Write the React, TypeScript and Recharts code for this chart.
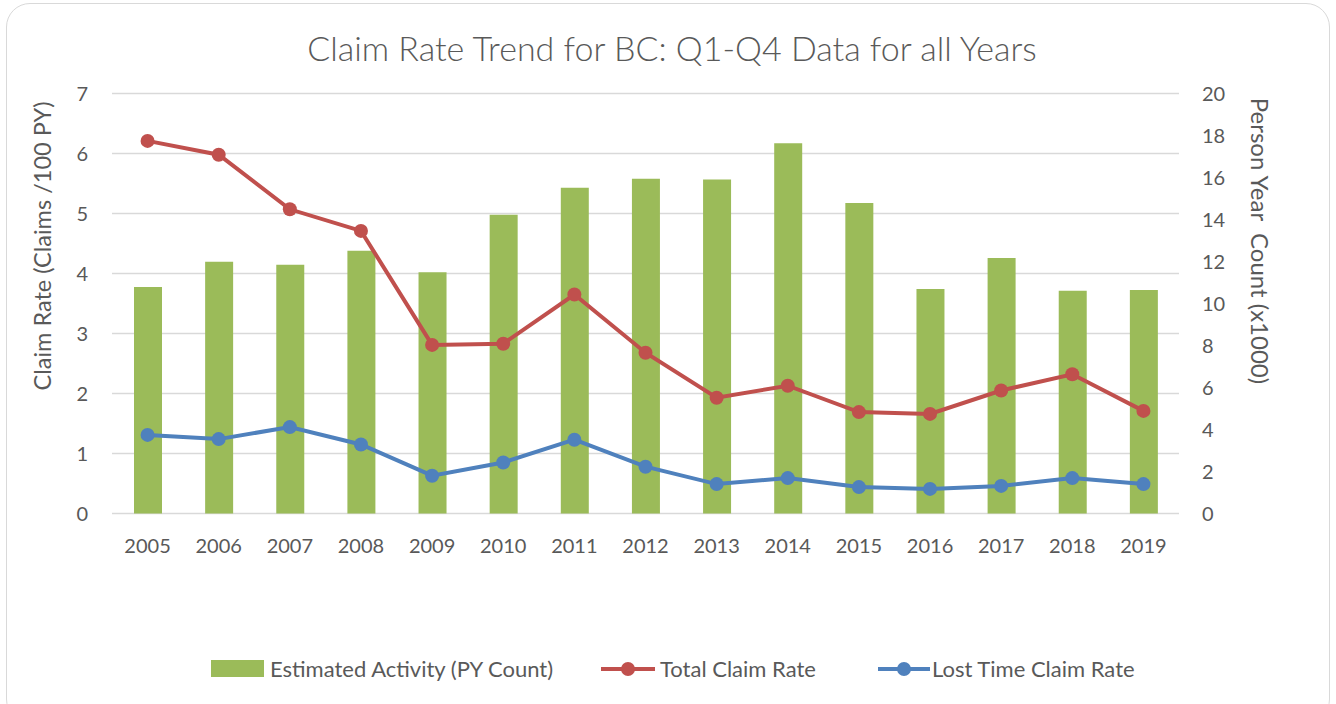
import React from "react"
import {
  ComposedChart,
  Bar,
  Line,
  XAxis,
  YAxis,
  CartesianGrid,
} from "recharts"

const years = [
  "2005", "2006", "2007", "2008", "2009", "2010", "2011", "2012",
  "2013", "2014", "2015", "2016", "2017", "2018", "2019",
]
const pyCount = [
  10.79, 11.99, 11.85, 12.51, 11.49, 14.23, 15.51, 15.94,
  15.9, 17.63, 14.79, 10.69, 12.17, 10.61, 10.64,
]
const totalClaimRate = [
  6.21, 5.98, 5.07, 4.71, 2.81, 2.83, 3.65, 2.68,
  1.93, 2.13, 1.69, 1.66, 2.05, 2.32, 1.71,
]
const lostTimeClaimRate = [
  1.31, 1.24, 1.44, 1.15, 0.63, 0.85, 1.23, 0.78,
  0.49, 0.59, 0.44, 0.41, 0.46, 0.59, 0.49,
]
const leftTicks = [0, 1, 2, 3, 4, 5, 6, 7]
const rightTicks = [0, 2, 4, 6, 8, 10, 12, 14, 16, 18, 20]

const data = years.map((year, i) => ({
  year,
  py: pyCount[i],
  total: totalClaimRate[i],
  lost: lostTimeClaimRate[i],
}))

const FONT = "Lato, 'Open Sans', sans-serif"
const TEXT = "#595959"
const GREEN = "#9BBB59"
const RED = "#C0504D"
const BLUE = "#4F81BD"

function LineMarker({ color, width }: { color: string; width: number }) {
  return (
    <svg width={width} height={16} style={{ display: "block" }}>
      <line x1={0} y1={8} x2={width} y2={8} stroke={color} strokeWidth={4} />
      <circle cx={width / 2} cy={8} r={7} fill={color} />
    </svg>
  )
}

const legendText: React.CSSProperties = {
  position: "absolute",
  top: 656,
  fontSize: 22,
  lineHeight: "26px",
  color: TEXT,
  whiteSpace: "nowrap",
}

export default function App() {
  const tick = { fontSize: 20, fill: TEXT, fontFamily: FONT }
  return (
    <div
      style={{
        position: "absolute",
        left: 0,
        top: 0,
        width: 1336,
        height: 704,
        overflow: "hidden",
        background: "#fff",
        fontFamily: FONT,
      }}
    >
      {/* chart frame */}
      <div
        style={{
          position: "absolute",
          left: 6,
          top: 3,
          width: 1324,
          height: 720,
          border: "1px solid #D9D9D9",
          borderRadius: 24,
          boxSizing: "border-box",
        }}
      />

      <div
        style={{
          position: "absolute",
          left: 672,
          top: 47,
          transform: "translate(-50%, -50%)",
          whiteSpace: "nowrap",
          fontSize: 34,
          fontWeight: 300,
          color: TEXT,
        }}
      >
        Claim Rate Trend for BC: Q1-Q4 Data for all Years
      </div>

      <div
        style={{
          position: "absolute",
          left: 42,
          top: 246,
          transform: "translate(-50%, -50%) rotate(-90deg)",
          whiteSpace: "nowrap",
          fontSize: 23.5,
          color: TEXT,
        }}
      >
        Claim Rate (Claims /100 PY)
      </div>
      <div
        style={{
          position: "absolute",
          left: 1260,
          top: 241,
          transform: "translate(-50%, -50%) rotate(90deg)",
          whiteSpace: "pre",
          fontSize: 24,
          color: TEXT,
        }}
      >
        {"Person Year  Count (x1000)"}
      </div>

      <div style={{ position: "absolute", left: 0, top: 0 }}>
        <ComposedChart
          width={1336}
          height={704}
          data={data}
          margin={{ top: 93.5, right: 0, bottom: 160.5, left: 0 }}
          barCategoryGap="30%"
        >
          <CartesianGrid
            yAxisId="left"
            vertical={false}
            stroke="#D9D9D9"
            strokeWidth={1.5}
          />
          <XAxis
            dataKey="year"
            height={30}
            axisLine={false}
            tickLine={false}
            tick={tick}
            tickMargin={19}
            interval={0}
          />
          <YAxis
            yAxisId="left"
            orientation="left"
            width={112}
            domain={[0, 7]}
            ticks={leftTicks}
            axisLine={false}
            tickLine={false}
            tick={tick}
            tickMargin={18}
          />
          <YAxis
            yAxisId="right"
            orientation="right"
            width={157}
            domain={[0, 20]}
            ticks={rightTicks}
            axisLine={false}
            tickLine={false}
            tick={{ ...tick, textAnchor: "start" }}
            tickMargin={17}
          />
          <Bar
            yAxisId="right"
            dataKey="py"
            fill={GREEN}
            barSize={28}
            isAnimationActive={false}
          />
          <Line
            yAxisId="left"
            dataKey="total"
            type="linear"
            stroke={RED}
            strokeWidth={4}
            dot={{ r: 7, fill: RED, stroke: "none" }}
            activeDot={false}
            isAnimationActive={false}
          />
          <Line
            yAxisId="left"
            dataKey="lost"
            type="linear"
            stroke={BLUE}
            strokeWidth={4}
            dot={{ r: 7, fill: BLUE, stroke: "none" }}
            activeDot={false}
            isAnimationActive={false}
          />
        </ComposedChart>
      </div>

      {/* legend */}
      <div
        style={{
          position: "absolute",
          left: 211,
          top: 660,
          width: 53,
          height: 17,
          background: GREEN,
        }}
      />
      <div style={{ ...legendText, left: 270 }}>Estimated Activity (PY Count)</div>
      <div style={{ position: "absolute", left: 601, top: 661 }}>
        <LineMarker color={RED} width={54} />
      </div>
      <div style={{ ...legendText, left: 660 }}>Total Claim Rate</div>
      <div style={{ position: "absolute", left: 878, top: 661 }}>
        <LineMarker color={BLUE} width={52} />
      </div>
      <div style={{ ...legendText, left: 932 }}>Lost Time Claim Rate</div>
    </div>
  )
}
